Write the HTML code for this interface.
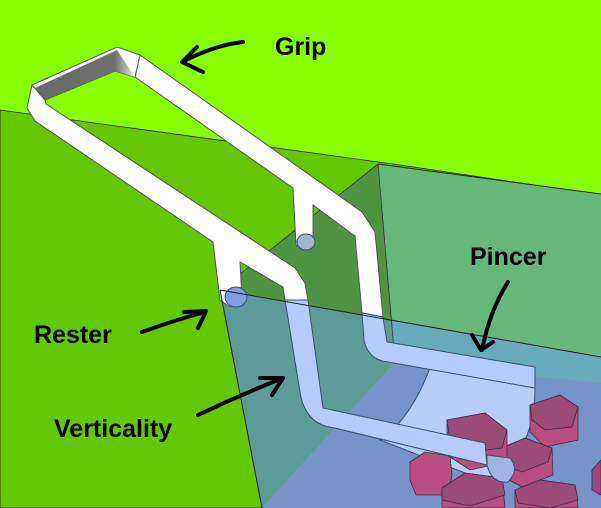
<!DOCTYPE html>
<html><head><meta charset="utf-8"><style>
html,body{margin:0;padding:0;background:#88ff00;}
svg{display:block}
text{font-family:"Liberation Sans",sans-serif;font-weight:bold;fill:#000}
</style></head><body>
<svg width="601" height="508" viewBox="0 0 601 508" xmlns="http://www.w3.org/2000/svg">
<defs>
<clipPath id="below"><polygon points="220,290 601,357 601,508 220,508"/></clipPath>
<clipPath id="above"><polygon points="0,0 601,0 601,357 220,290 0,290"/></clipPath>
<linearGradient id="gg" x1="0" y1="0" x2="1" y2="0"><stop offset="0" stop-color="#6a6a6a"/><stop offset="0.8" stop-color="#707070"/><stop offset="1" stop-color="#e8e8e8"/></linearGradient>
</defs>
<rect width="601" height="508" fill="#88ff00"/>
<polygon points="0,110 400,165 601,195 601,508 0,508" fill="#64c800" stroke="#222" stroke-width="0.8"/>
<g clip-path="url(#above)">
<polygon points="220,290 378,164 395,362 262,508" fill="#4f9440"/>
<polygon points="378,164 601,194 601,383 395,362" fill="#66b87a"/>
</g>
<g clip-path="url(#below)">
<polygon points="220,290 378,164 395,362 262,508" fill="#5f9a9a"/>
<polygon points="378,164 601,194 601,383 395,362" fill="#66aabb"/>
<polygon points="395,362 601,383 601,508 262,508" fill="#7794c8"/>
</g>
<line x1="378" y1="164" x2="601" y2="194" stroke="#222" stroke-width="1"/>
<line x1="378" y1="164" x2="395" y2="362" stroke="#333" stroke-width="0.8"/>
<line x1="378" y1="164" x2="220" y2="290" stroke="#333" stroke-width="0.8"/>

<g stroke="#555" stroke-width="1">
<polygon points="140,55 362,212 375,232 383,317 362,313 355,236 313,205 313,240 305,250 296,245 293,188 135,77" fill="#fff"/>
<polygon points="32,85 117,47 140,55 135,77 115,71 45,100 48,110" fill="#fff"/>
<polygon points="35,88 117,50 135,77 115,71 45,100" fill="url(#gg)" stroke="none"/>
<polygon points="27,108 32,85 45,100 46,104 295,268 305,283 308,300 285,300 283,287 240,262 242,300 230,307 220,300 213,242 35,121" fill="#fff"/>
</g>
<g stroke="#3a5070" stroke-width="1" fill="#b4ccfa">
<path d="M430,368 L535,388 Q535,430 515,458 L505,480 L470,475 L380,440 Q410,420 430,368 Z" fill="#b6cdf6"/>
<path d="M362,313 L364,340 Q368,360 388,362 L535,388 L535,367 L387,342 L383,317 Z"/>
</g>

<!-- hexagons -->
<g stroke="#3a3050" stroke-width="0.8">
<polygon points="410,462 425,452 450,456 452,475 448,495 416,495 410,480" fill="#b84d7f"/>
<polygon points="530,405 560,395 578,407 578,440 545,447 530,432" fill="#b84d7f"/>
<polygon points="530,405 560,395 578,407 572,427 545,430 532,420" fill="#9c4a78"/>
<polygon points="497,450 525,438 552,448 553,475 522,487 500,475" fill="#b84d7f"/>
<polygon points="497,450 525,438 552,448 548,462 522,472 500,464" fill="#9c4a78"/>
<polygon points="447,420 485,413 507,430 507,462 470,470 447,455" fill="#b84d7f"/>
<polygon points="447,420 485,413 507,430 502,448 470,452 450,440" fill="#9c4a78"/>
<polygon points="442,488 465,473 502,478 505,508 442,508" fill="#b84d7f"/>
<polygon points="442,488 465,473 502,478 505,495 470,506 442,500" fill="#9c4a78"/>
<polygon points="515,490 540,480 575,485 578,508 515,508" fill="#b84d7f"/>
<polygon points="515,490 540,480 575,485 578,500 550,508 518,503" fill="#9c4a78"/>
<polygon points="592,470 601,460 601,495 592,490" fill="#9c4a78"/>
</g>

<g stroke="#3a5070" stroke-width="1" fill="#b4ccfa">
<path d="M285,300 L300,392 Q305,425 335,428 L487,465 L485,443 L323,408 L308,300 Z"/>
<path d="M487,465 Q492,484 508,482 Q520,470 510,458 L487,455Z" fill="#9fb5e0"/>
<ellipse cx="236" cy="297" rx="11" ry="10" fill="#7d9ee0" stroke="#3a5070"/>
<ellipse cx="306" cy="242" rx="9" ry="8" fill="#a0b3d0" stroke="#3a5070"/>
</g>
<line x1="220" y1="290" x2="601" y2="357" stroke="#222" stroke-width="1"/>
<line x1="220" y1="290" x2="262" y2="508" stroke="#222" stroke-width="1"/>

<g fill="none" stroke="#000" stroke-width="4" stroke-linecap="round" stroke-linejoin="round">
<path d="M243,42 Q215,45 182,62"/><path d="M197,47 L182,62 L203,72"/>
<path d="M508,282 Q490,310 482,350"/><path d="M472,335 L481,350 L493,342"/>
<path d="M142,332 Q175,320 205,312"/><path d="M184,312 L206,311 L198,328"/>
<path d="M198,415 Q240,395 283,378"/><path d="M260,378 L283,378 L272,395"/>
</g>
<text x="275" y="55" font-size="25">Grip</text>
<text x="470" y="265" font-size="25">Pincer</text>
<text x="34" y="343" font-size="25">Rester</text>
<text x="54" y="437" font-size="25">Verticality</text>
</svg>
</body></html>
